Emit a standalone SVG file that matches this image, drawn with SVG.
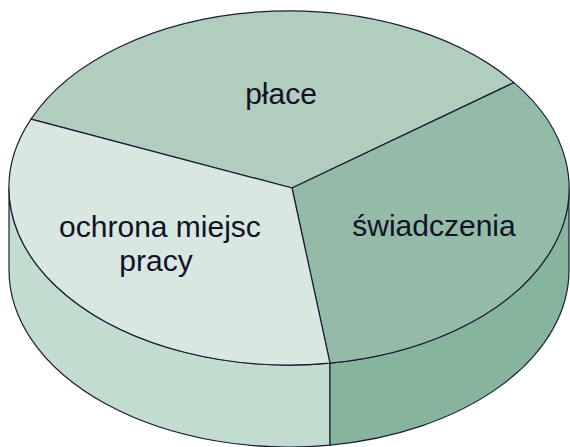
<svg xmlns="http://www.w3.org/2000/svg" width="570" height="447" viewBox="0 0 570 447">
<style>
.e{stroke:#1b1d36;stroke-width:1.2;stroke-linejoin:round}
.t{font-family:"Liberation Sans",Arial,sans-serif;font-size:30px;fill:#10122a;text-anchor:middle}
</style>
<rect width="570" height="447" fill="#ffffff"/>
<g id="side-ochrona">
<path class="e" fill="#c3dcd0" d="M9,188 A280,177 0 0 0 330,363.1 L330,445.1 A280,177 0 0 1 9,270 Z"/>
</g>
<g id="side-swiadczenia">
<path class="e" fill="#87b49d" d="M330,363.1 A280,177 0 0 0 569,188 L569,270 A280,177 0 0 1 330,445.1 Z"/>
</g>
<g id="slice-place">
<path class="e" fill="#b0cdbe" d="M292,188 L31,119.2 A280,177 0 0 1 514,82.6 Z"/>
<text class="t" x="281" y="104">płace</text>
</g>
<g id="slice-swiadczenia">
<path class="e" fill="#94bba7" d="M292,188 L514,82.6 A280,177 0 0 1 330,363.1 Z"/>
<text class="t" x="434" y="236">świadczenia</text>
</g>
<g id="slice-ochrona">
<path class="e" fill="#d8e7e0" d="M292,188 L330,363.1 A280,177 0 0 1 31,119.2 Z"/>
<text class="t" x="160" y="237">ochrona miejsc</text>
<text class="t" x="156" y="271">pracy</text>
</g>
<g id="connectors"></g>
</svg>
